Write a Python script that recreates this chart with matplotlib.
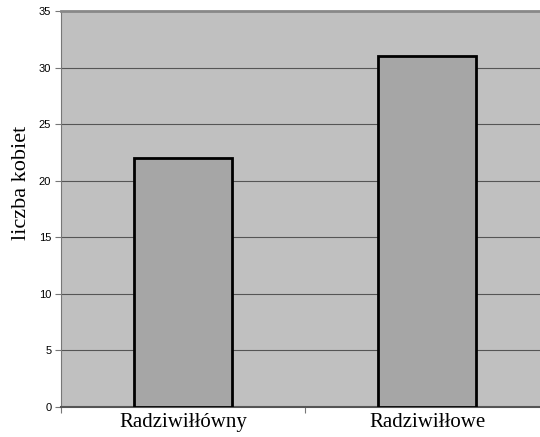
import matplotlib.pyplot as plt

categories = ["Radziwiłłówny", "Radziwiłłowe"]
women = [22, 31]
y_ticks = [0, 5, 10, 15, 20, 25, 30, 35]

fig = plt.figure(figsize=(5.4, 4.37), dpi=100)
ax = fig.add_axes([61 / 540, 1 - 407 / 437, 488 / 540, 396 / 437])
ax.set_facecolor("#c0c0c0")

x = range(len(categories))
ax.bar(x, women, width=0.405, color="#a6a6a6", edgecolor="black", linewidth=2, zorder=3)

ax.set_xlim(-0.5, 1.5)
ax.set_ylim(0, 35)
ax.set_yticks(y_ticks)
ax.set_yticklabels([str(v) for v in y_ticks], fontfamily="Liberation Sans", fontsize=8)
ax.yaxis.grid(True, color="#555555", linewidth=0.8, zorder=1)
ax.tick_params(axis="y", length=4, color="#777777", pad=3)

# category ticks sit between the bars, labels in the middle of each slot
ax.set_xticks([-0.5, 0.5, 1.5])
ax.set_xticklabels([])
ax.set_xticks(list(x), minor=True)
ax.set_xticklabels(categories, minor=True, fontfamily="Liberation Serif", fontsize=15)
ax.tick_params(axis="x", which="major", length=4, color="#777777")
ax.tick_params(axis="x", which="minor", length=0, pad=4)

ax.set_ylabel("liczba kobiet", fontfamily="Liberation Serif", fontsize=16, labelpad=6)
ax.yaxis.label.set_y(0.567)  # label sits above the middle in the original

ax.spines["top"].set_color("#888888")
ax.spines["top"].set_linewidth(2)
ax.spines["left"].set_color("#777777")
ax.spines["bottom"].set_color("#555555")
ax.spines["bottom"].set_linewidth(1.5)
ax.spines["right"].set_visible(False)

fig.savefig("out.png", dpi=100)
